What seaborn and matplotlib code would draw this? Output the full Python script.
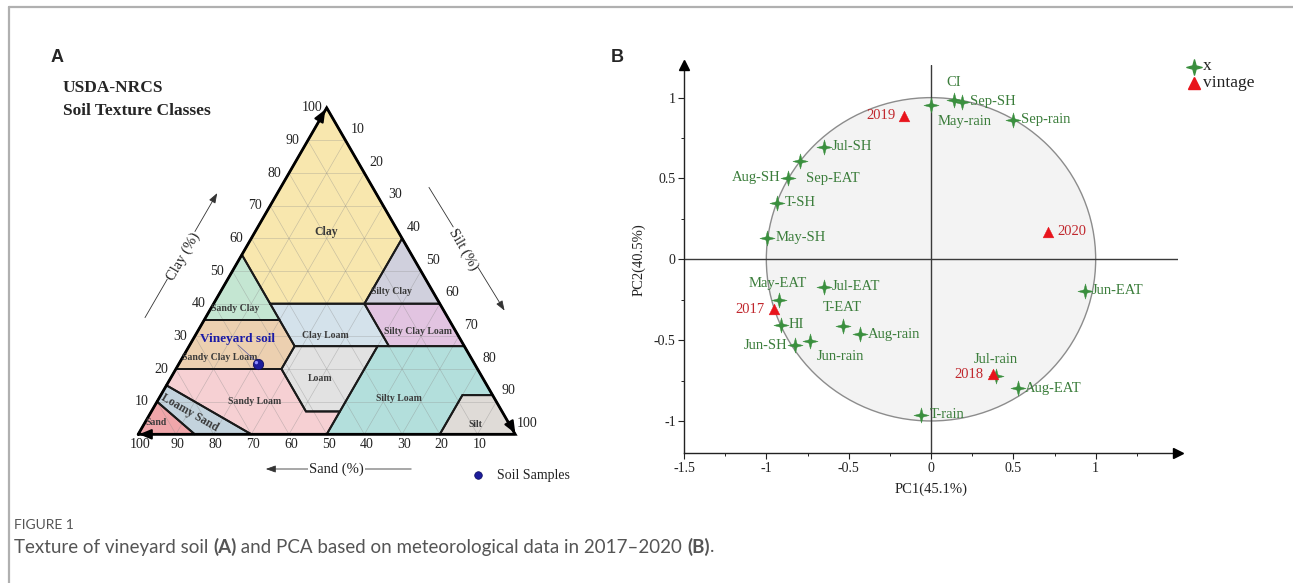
import numpy as np
import matplotlib
matplotlib.use("Agg")
import matplotlib.pyplot as plt
import seaborn as sns
from matplotlib.path import Path
from matplotlib.lines import Line2D

# ---------------- data: panel B (PCA) ----------------
var_names = ["CI", "Sep-SH", "May-rain", "Sep-rain", "Jul-SH", "Sep-EAT", "Aug-SH",
             "T-SH", "May-SH", "Jun-EAT", "May-EAT", "Jul-EAT", "HI", "T-EAT",
             "Aug-rain", "Jun-rain", "Jun-SH", "Jul-rain", "Aug-EAT", "T-rain"]
var_pc1 = [0.137, 0.187, 0.002, 0.496, -0.652, -0.793, -0.867, -0.937, -0.993, 0.935,
           -0.922, -0.652, -0.911, -0.537, -0.430, -0.733, -0.824, 0.393, 0.530, -0.059]
var_pc2 = [0.986, 0.975, 0.955, 0.862, 0.697, 0.608, 0.503, 0.351, 0.134, -0.194,
           -0.252, -0.169, -0.406, -0.412, -0.464, -0.503, -0.532, -0.722, -0.798, -0.963]
vintages = ["2019", "2020", "2017", "2018"]
vin_pc1 = [-0.161, 0.713, -0.954, 0.376]
vin_pc2 = [0.887, 0.169, -0.309, -0.711]

# ---------------- data: panel A (USDA texture triangle, sand/clay %) ----------------
soil_classes = ["Clay", "Sandy Clay", "Silty Clay", "Sandy Clay Loam", "Clay Loam",
                "Silty Clay Loam", "Loam", "Silty Loam", "Silt", "Sandy Loam",
                "Loamy Sand", "Sand"]
class_sand = [[0, 45, 45, 20, 0], [45, 65, 45], [0, 20, 0], [65, 80, 52, 45, 45],
              [45, 20, 20, 45], [20, 0, 0, 20], [45, 52, 52, 43, 23],
              [23, 43, 50, 20, 8, 0, 0], [20, 0, 0, 8], [85, 80, 52, 52, 43, 50, 70],
              [90, 85, 70, 85], [100, 90, 85]]
class_clay = [[100, 55, 40, 40, 60], [55, 35, 35], [60, 40, 40], [35, 20, 20, 27, 35],
              [40, 40, 27, 27], [40, 40, 27, 27], [27, 20, 7, 7, 27],
              [27, 7, 0, 0, 12, 12, 27], [0, 0, 12, 12], [15, 20, 20, 7, 7, 0, 0],
              [10, 15, 0, 0], [0, 10, 0]]
sample_sand = [57.5]
sample_clay = [21.5]
axis_ticks = [10, 20, 30, 40, 50, 60, 70, 80, 90, 100]

# ---------------- styling ----------------
class_colors = ["#f8e7ae", "#c4e6d2", "#d0d0dd", "#ecd0b0", "#d4e2eb", "#e2c4e1",
                "#e2e2e2", "#b3dfdc", "#dfdbd7", "#f6d0d3", "#c3d3dd", "#f0a6aa"]
label_pos = {  # label anchor in triangle xy units
    "Clay": (0.498, 0.537), "Sandy Clay": (0.257, 0.335), "Silty Clay": (0.673, 0.378),
    "Sandy Clay Loam": (0.217, 0.205), "Clay Loam": (0.496, 0.263),
    "Silty Clay Loam": (0.742, 0.274), "Loam": (0.482, 0.149), "Silty Loam": (0.692, 0.094),
    "Silt": (0.894, 0.027), "Sandy Loam": (0.310, 0.088), "Loamy Sand": (0.137, 0.057),
    "Sand": (0.047, 0.030)}
# (dx px, dy px, ha) label offsets for panel B
var_offsets = {"CI": (0, 17, "center"), "Sep-SH": (8, 0, "left"), "May-rain": (6, -17, "left"),
               "Sep-rain": (8, 0, "left"), "Jul-SH": (8, 0, "left"), "Sep-EAT": (6, -17, "left"),
               "Aug-SH": (-8, 0, "right"), "T-SH": (8, 0, "left"), "May-SH": (8, 0, "left"),
               "Jun-EAT": (7, 0, "left"), "May-EAT": (-1, 17, "center"), "Jul-EAT": (8, 0, "left"),
               "HI": (8, 0, "left"), "T-EAT": (0, 18, "center"), "Aug-rain": (8, 0, "left"),
               "Jun-rain": (6, -16, "left"), "Jun-SH": (-8, 0, "right"),
               "Jul-rain": (0, 17, "center"), "Aug-EAT": (7, 0, "left"), "T-rain": (8, 0, "left")}
vin_offsets = {"2019": (-9, 0, "right"), "2020": (9, 0, "left"), "2017": (-9, 0, "right"),
               "2018": (-9, 0, "right")}

GREEN = "#3a8f3e"
GREEN_TXT = "#3b7d3b"
RED = "#e8141c"
RED_TXT = "#c0272d"

sns.set_theme(style="white")
plt.rcParams["font.family"] = ["Liberation Serif", "DejaVu Serif"]

W, H = 1293, 583
fig = plt.figure(figsize=(W / 100, H / 100), dpi=100)


def fx(px):
    return px / W


def fy(py):
    return 1 - py / H


PT = 0.72  # points per pixel

# frame lines of the figure box
fig.add_artist(Line2D([fx(9), 1], [fy(7), fy(7)], color="#b0b0b0", lw=1.6))
fig.add_artist(Line2D([fx(9), fx(9)], [fy(7), 0], color="#b0b0b0", lw=1.6))

# ======================= panel A =======================
axA = fig.add_axes([fx(40), fy(500), 560 / W, 460 / H])
ox, oy, unit = 138.2, 434.3, 377.0
axA.set_xlim((40 - ox) / unit, (600 - ox) / unit)
axA.set_ylim(-(500 - oy) / unit, (oy - 40) / unit)
axA.axis("off")


def tern(sand, clay):
    sand = np.asarray(sand, float)
    clay = np.asarray(clay, float)
    return 1 - sand / 100 - clay / 200, clay * np.sqrt(3) / 200


def pxA(px, py):
    return (px - ox) / unit, (oy - py) / unit


for name, s, c, col in zip(soil_classes, class_sand, class_clay, class_colors):
    x, y = tern(s, c)
    axA.fill(x, y, facecolor=col, edgecolor="none", zorder=1)

# light grid in three directions
for v in range(10, 100, 10):
    for s_pair, c_pair in [([100 - v, 0], [v, v]), ([v, v], [0, 100 - v]),
                           ([100 - v, 0], [0, 100 - v])]:
        x, y = tern(s_pair, c_pair)
        axA.plot(x, y, color="#8a8a8a", lw=0.45, alpha=0.45, zorder=2)

for s, c in zip(class_sand, class_clay):
    x, y = tern(s + [s[0]], c + [c[0]])
    axA.plot(x, y, color="#1a1a1a", lw=1.4, zorder=3, solid_joinstyle="miter")

tx, ty = tern([100, 0, 0, 100], [0, 0, 100, 0])
axA.plot(tx, ty, color="black", lw=2.0, zorder=4, solid_joinstyle="miter")

# corner arrowheads
arr = dict(arrowstyle="-|>,head_length=0.6,head_width=0.25", color="black", lw=1.5)
axA.annotate("", xy=(-0.005, 0), xytext=(0.04, 0), arrowprops=arr, zorder=5)
axA.annotate("", xy=(0.5, 0.868), xytext=(0.48, 0.833), arrowprops=arr, zorder=5)
axA.annotate("", xy=(1.004, -0.004), xytext=(0.984, 0.031), arrowprops=arr, zorder=5)

# edge tick labels
for v in axis_ticks:
    x, y = tern([v], [0])
    axA.annotate(str(v), (x[0], y[0]), xytext=(2 * PT, -10 * PT), textcoords="offset points",
                 ha="center", va="center", fontsize=10, color="#222222")
    x, y = tern([100 - v], [v])
    axA.annotate(str(v), (x[0], y[0]), xytext=(-15 * PT, 0), textcoords="offset points",
                 ha="center", va="center", fontsize=10, color="#222222")
    x, y = tern([0], [100 - v])
    axA.annotate(str(v), (x[0], y[0]), xytext=(12 * PT, 11 * PT), textcoords="offset points",
                 ha="center", va="center", fontsize=10, color="#222222")

# class names
for name in soil_classes:
    x, y = label_pos[name]
    size, rot = 7, 0
    if name == "Clay":
        size = 8.5
    if name == "Loamy Sand":
        size, rot = 8.5, -30
    axA.text(x, y, name, ha="center", va="center", fontsize=size, fontweight="bold",
             color="#3a3a3a", rotation=rot, zorder=6)

# sample point
sx, sy = tern(sample_sand, sample_clay)
sns.scatterplot(x=sx, y=sy, ax=axA, s=55, color="#1d1d9a", edgecolor="#0d0d5e",
                linewidth=0.6, zorder=7, legend=False)
axA.scatter(sx - 0.004, sy + 0.004, s=6, color="#8c8cff", edgecolor="none", zorder=8)
lx, ly = pxA(237, 339.5)
axA.text(lx, ly, "Vineyard soil", ha="center", va="center", fontsize=9.5, fontweight="bold",
         color="#1a1aa6", zorder=8)
x0, y0 = pxA(238, 345)
axA.plot([x0, sx[0] - 0.008], [y0, sy[0] + 0.01], color="#5a5aa0", lw=0.5, zorder=7)

# axis names with arrows
thin = dict(arrowstyle="-|>,head_length=0.5,head_width=0.18", color="#333333", lw=0.6)
x1, y1 = pxA(143.6, 320)
x2, y2 = pxA(218.6, 190.7)
axA.annotate("", xy=(x2, y2), xytext=(x1, y1), arrowprops=thin)
x, y = pxA(183, 256.5)
axA.text(x, y, "Clay (%)", rotation=60, ha="center", va="center", fontsize=10.5,
         color="#222222", bbox=dict(facecolor="white", edgecolor="none", pad=0.5))

x1, y1 = pxA(427.5, 185)
x2, y2 = pxA(506, 313)
axA.annotate("", xy=(x2, y2), xytext=(x1, y1), arrowprops=thin)
x, y = pxA(463, 249)
axA.text(x, y, "Silt (%)", rotation=-60, ha="center", va="center", fontsize=10.5,
         color="#222222", bbox=dict(facecolor="white", edgecolor="none", pad=0.5))

x1, y1 = pxA(414, 469)
x2, y2 = pxA(263, 469)
axA.annotate("", xy=(x2, y2), xytext=(x1, y1), arrowprops=thin)
x, y = pxA(336.5, 469)
axA.text(x, y, "Sand (%)", ha="center", va="center", fontsize=10.5, color="#222222",
         bbox=dict(facecolor="white", edgecolor="none", pad=0.5))

# small legend
x, y = pxA(478, 475.5)
axA.scatter([x], [y], s=30, color="#1d1d9a", edgecolor="#0d0d5e", linewidth=0.5, clip_on=False)
x, y = pxA(497, 476)
axA.text(x, y, "Soil Samples", ha="left", va="center", fontsize=10, color="#222222")

fig.text(fx(63), fy(88), "USDA-NRCS", ha="left", va="center", fontsize=12.5, fontweight="bold")
fig.text(fx(63), fy(111), "Soil Texture Classes", ha="left", va="center", fontsize=12.5,
         fontweight="bold")

# ======================= panel B =======================
axB = fig.add_axes([fx(684), fy(453.3), 494 / W, 388 / H])
axB.set_xlim(-1.5, 1.5)
axB.set_ylim(-1.2, 1.2)
for side in ["top", "right"]:
    axB.spines[side].set_visible(False)
for side in ["left", "bottom"]:
    axB.spines[side].set_color("#222222")
    axB.spines[side].set_linewidth(1.0)

circ = plt.Circle((0, 0), 1, facecolor="#f3f3f3", edgecolor="#8c8c8c", lw=1.0, zorder=1)
axB.add_patch(circ)
axB.axhline(0, color="#3a3a3a", lw=1.0, zorder=2)
axB.axvline(0, color="#3a3a3a", lw=1.0, zorder=2)

# axis arrowheads
axB.plot([1.5], [-1.2], marker=">", color="black", ms=7, clip_on=False, zorder=5)
axB.plot([-1.5], [1.2], marker="^", color="black", ms=7, clip_on=False, zorder=5)


def star4(inner=0.3):
    verts = []
    for k in range(8):
        ang = np.pi / 2 + k * np.pi / 4
        r = 1.0 if k % 2 == 0 else inner
        verts.append((r * np.cos(ang), r * np.sin(ang)))
    verts.append(verts[0])
    codes = [Path.MOVETO] + [Path.LINETO] * 7 + [Path.CLOSEPOLY]
    return Path(verts, codes)


STAR = star4(0.3)
sns.scatterplot(x=var_pc1, y=var_pc2, ax=axB, marker=STAR, s=120, color=GREEN,
                edgecolor=GREEN, linewidth=0.3, zorder=4, legend=False)
sns.scatterplot(x=vin_pc1, y=vin_pc2, ax=axB, marker="^", s=60, color=RED,
                edgecolor=RED, linewidth=0.3, zorder=4, legend=False)

for n, x, y in zip(var_names, var_pc1, var_pc2):
    dx, dy, ha = var_offsets[n]
    axB.annotate(n, (x, y), xytext=(dx * PT, dy * PT), textcoords="offset points",
                 ha=ha, va="center", fontsize=10.5, color=GREEN_TXT, zorder=6)
for n, x, y in zip(vintages, vin_pc1, vin_pc2):
    dx, dy, ha = vin_offsets[n]
    axB.annotate(n, (x, y), xytext=(dx * PT, dy * PT), textcoords="offset points",
                 ha=ha, va="center", fontsize=10.5, color=RED_TXT, zorder=6)

xt = [-1.5, -1, -0.5, 0, 0.5, 1]
yt = [-1, -0.5, 0, 0.5, 1]
axB.set_xticks(xt)
axB.set_xticklabels(["-1.5", "-1", "-0.5", "0", "0.5", "1"])
axB.set_yticks(yt)
axB.set_yticklabels(["-1", "-0.5", "0", "0.5", "1"])
axB.set_xticks(np.arange(-1.25, 1.5, 0.5), minor=True)
axB.set_yticks([-0.75, -0.25, 0.25, 0.75], minor=True)
axB.tick_params(which="major", direction="out", length=4, width=0.8, color="#222222",
                labelsize=10, labelcolor="#222222", pad=2, left=True, bottom=True)
axB.tick_params(which="minor", direction="out", length=2.5, width=0.7, color="#222222",
                left=True, bottom=True)
axB.set_xlabel("PC1(45.1%)", fontsize=10.5, color="#222222", labelpad=6)
axB.set_ylabel("PC2(40.5%)", fontsize=10.5, color="#222222", labelpad=6)

# legend (drawn at fixed pixel rows, as tight as in the original)
fig.add_artist(Line2D([fx(1194)], [fy(67)], marker=STAR, ls="none", color=GREEN, ms=11))
fig.add_artist(Line2D([fx(1194)], [fy(83)], marker="^", ls="none", color=RED, ms=8))
fig.text(fx(1203), fy(66), "x", ha="left", va="center", fontsize=12.5, color="#222222")
fig.text(fx(1203), fy(83), "vintage", ha="left", va="center", fontsize=12.5, color="#222222")

# panel letters
fig.text(fx(51), fy(57), "A", fontsize=13, fontweight="bold", family="Liberation Sans",
         ha="left", va="center")
fig.text(fx(611), fy(57), "B", fontsize=13, fontweight="bold", family="Liberation Sans",
         ha="left", va="center")

# caption
fig.text(fx(14), fy(525), "FIGURE 1", fontsize=10, family="Lato", color="#555555",
         ha="left", va="center")
renderer = fig.canvas.get_renderer()
pieces = [("Texture of vineyard soil ", "normal"), ("(A)", "bold"),
          (" and PCA based on meteorological data in 2017\u20132020 ", "normal"),
          ("(B)", "bold"), (".", "normal")]
cx = fx(14)
for s, w in pieces:
    t = fig.text(cx, fy(547), s, fontsize=13.5, family="Lato", fontweight=w,
                 color="#555555", ha="left", va="center")
    bb = t.get_window_extent(renderer)
    cx += bb.width / fig.bbox.width

fig.savefig("out.png", dpi=100)
